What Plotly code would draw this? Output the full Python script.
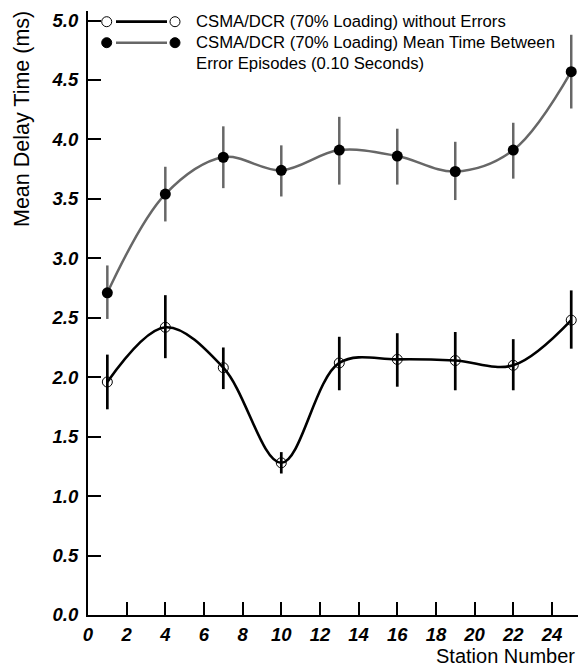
import plotly.graph_objects as go

# ---- data ----
stations = [1, 4, 7, 10, 13, 16, 19, 22, 25]

no_err_name = "CSMA/DCR (70% Loading) without Errors"
no_err_mean = [1.96, 2.42, 2.08, 1.28, 2.12, 2.15, 2.14, 2.10, 2.48]
no_err_plus = [0.23, 0.27, 0.17, 0.09, 0.22, 0.22, 0.24, 0.22, 0.25]
no_err_minus = [0.23, 0.26, 0.18, 0.09, 0.23, 0.23, 0.25, 0.21, 0.24]

err_name_lines = ["CSMA/DCR (70% Loading) Mean Time Between",
                  "Error Episodes (0.10 Seconds)"]
err_mean = [2.71, 3.54, 3.85, 3.74, 3.91, 3.86, 3.73, 3.91, 4.57]
err_plus = [0.23, 0.23, 0.26, 0.21, 0.28, 0.23, 0.25, 0.23, 0.31]
err_minus = [0.22, 0.23, 0.26, 0.22, 0.29, 0.24, 0.24, 0.24, 0.31]

x_ticks = list(range(0, 25, 2))
y_ticks = [0.0, 0.5, 1.0, 1.5, 2.0, 2.5, 3.0, 3.5, 4.0, 4.5, 5.0]
x_title = "Station Number"
y_title = "Mean Delay Time (ms)"

# ---- layout geometry ----
W, H = 579, 668
ML, MR, MT, MB = 88, 1, 11, 53
PW, PH = W - ML - MR, H - MT - MB
FONT = "Liberation Sans, Arial, Helvetica, sans-serif"
GRAY = "#676767"


def px_x(px):
    return (px - ML) / PW


def px_y(py):
    return (H - MB - py) / PH


fig = go.Figure()

fig.add_trace(go.Scatter(
    x=stations, y=err_mean, mode="lines+markers",
    line=dict(color=GRAY, width=2.5, shape="spline", smoothing=1.0),
    marker=dict(symbol="circle", size=11, color="black"),
    error_y=dict(type="data", symmetric=False, array=err_plus,
                 arrayminus=err_minus, color=GRAY, thickness=2.5, width=0),
    name=" ".join(err_name_lines), showlegend=False,
))

fig.add_trace(go.Scatter(
    x=stations, y=no_err_mean, mode="lines+markers",
    line=dict(color="black", width=2.6, shape="spline", smoothing=1.0),
    marker=dict(symbol="circle-open", size=10, color="black",
                line=dict(color="black", width=1)),
    error_y=dict(type="data", symmetric=False, array=no_err_plus,
                 arrayminus=no_err_minus, color="black", thickness=2.7, width=0),
    name=no_err_name, showlegend=False,
))

# ---- custom legend (markers at both ends of the line sample) ----
shapes = []
annotations = []
legend_rows = [
    dict(y=21.7, fill="white", lcolor="black", lw=2.8),
    dict(y=42.7, fill="black", lcolor=GRAY, lw=2.5),
]
for row in legend_rows:
    yy = px_y(row["y"])
    shapes.append(dict(type="line", xref="paper", yref="paper",
                       x0=px_x(116), x1=px_x(167), y0=yy, y1=yy,
                       line=dict(color=row["lcolor"], width=row["lw"])))
    for cx in (106.7, 175):
        shapes.append(dict(type="circle", xref="paper", yref="paper",
                           xsizemode="pixel", ysizemode="pixel",
                           xanchor=px_x(cx), yanchor=yy,
                           x0=-5, x1=5, y0=-5, y1=5,
                           fillcolor=row["fill"],
                           line=dict(color="black", width=1)))

legend_texts = [(no_err_name, 21.7), (err_name_lines[0], 42.7), (err_name_lines[1], 63.3)]
for txt, py in legend_texts:
    annotations.append(dict(text=txt, xref="paper", yref="paper",
                            x=px_x(194), y=px_y(py), xanchor="left", yanchor="middle",
                            showarrow=False,
                            font=dict(family=FONT, size=16.7, color="black")))

annotations.append(dict(text=y_title, xref="paper", yref="paper",
                        x=px_x(22), y=px_y(9), xanchor="center", yanchor="top",
                        textangle=-90, showarrow=False,
                        font=dict(family=FONT, size=21.5, color="black")))
annotations.append(dict(text=x_title, xref="paper", yref="paper",
                        x=px_x(577), y=px_y(656), xanchor="right", yanchor="middle",
                        showarrow=False,
                        font=dict(family=FONT, size=20, color="black")))

tickfont = dict(family=FONT, size=18.5, color="black")
x_ticktext = ["<b><i>%d</i></b>" % v for v in x_ticks]
y_ticktext = ["<b><i>%.1f</i></b>" % v for v in y_ticks]

fig.update_layout(
    width=W, height=H,
    margin=dict(l=ML, r=MR, t=MT, b=MB, pad=0),
    paper_bgcolor="white", plot_bgcolor="white",
    showlegend=False,
    shapes=shapes, annotations=annotations,
    xaxis=dict(range=[0, 25.35], tickvals=x_ticks, ticktext=x_ticktext,
               ticks="inside", ticklen=13,
               tickwidth=1.5, tickcolor="black", showline=True, linecolor="black",
               linewidth=2, showgrid=False, zeroline=False, tickfont=tickfont,
               ticklabelstandoff=2),
    yaxis=dict(range=[0, 5.08], tickvals=y_ticks, ticktext=y_ticktext,
               ticks="inside",
               ticklen=13, tickwidth=1.5, tickcolor="black", showline=True,
               linecolor="black", linewidth=2, showgrid=False, zeroline=False,
               tickfont=tickfont, ticklabelstandoff=4),
)

fig.write_html(
    "out.html",
    config={"displayModeBar": False},
    post_script="document.body.style.margin='0';document.body.style.overflow='hidden';",
)
